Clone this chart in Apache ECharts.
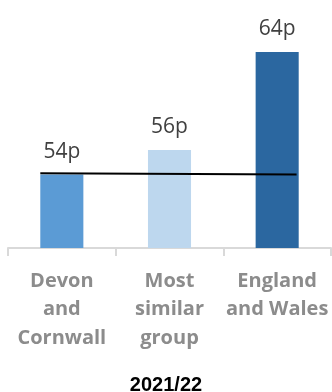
<!DOCTYPE html>
<html>
<head>
    <meta charset="utf-8">
    <title>2021/22</title>
    <script src="https://cdn.jsdelivr.net/npm/echarts@6/dist/echarts.min.js"></script>
    <style type="text/css">
        html, body { margin: 0; padding: 0; background: #ffffff; }
        #chart { width: 332px; height: 392px; }
    </style>
</head>
<body>
<div id="chart"></div>
<script>
    // 数据
    var categories = ['Devon\nand\nCornwall', 'Most\nsimilar\ngroup', 'England\nand Wales'];
    var values = [54, 56, 64];
    var barColors = ['#5b9bd5', '#bdd7ee', '#2b67a0'];
    // 参考线 (Devon and Cornwall 水平)
    var refLine = [[-0.2, 54.1], [2.18, 54.0]];

    var chart = echarts.init(document.getElementById('chart'));
    var option = {
        animation: false,
        title: {
            text: '2021/22',
            left: 'center',
            top: 370,
            textStyle: {fontFamily: 'Liberation Sans', fontSize: 20, fontWeight: 'bold', color: '#000000'}
        },
        grid: {left: 8, right: 1, top: 52, bottom: 144},
        xAxis: [
            {
                type: 'category',
                data: categories,
                axisLine: {lineStyle: {color: '#d9d9d9', width: 2}},
                axisTick: {show: true, length: 8, lineStyle: {color: '#d9d9d9', width: 2}},
                axisLabel: {
                    interval: 0,
                    hideOverlap: false,
                    margin: 19,
                    lineHeight: 28.5,
                    fontFamily: 'Open Sans',
                    fontSize: 20,
                    fontWeight: 'bold',
                    color: '#8c8c8c'
                }
            },
            {
                type: 'value',
                min: -0.5,
                max: 2.5,
                show: false
            }
        ],
        yAxis: {
            type: 'value',
            min: 48,
            max: 64,
            show: false,
            splitLine: {show: false}
        },
        series: [
            {
                type: 'bar',
                barWidth: '40%',
                data: values.map(function (v, i) {
                    return {value: v, itemStyle: {color: barColors[i]}};
                }),
                label: {
                    show: true,
                    position: 'top',
                    distance: 12,
                    formatter: '{c}p',
                    fontFamily: 'Open Sans',
                    fontSize: 21,
                    color: '#404040'
                }
            },
            {
                type: 'line',
                xAxisIndex: 1,
                data: refLine,
                symbol: 'none',
                lineStyle: {color: '#000000', width: 2},
                z: 5
            }
        ]
    };
    chart.setOption(option);
</script>
</body>
</html>
